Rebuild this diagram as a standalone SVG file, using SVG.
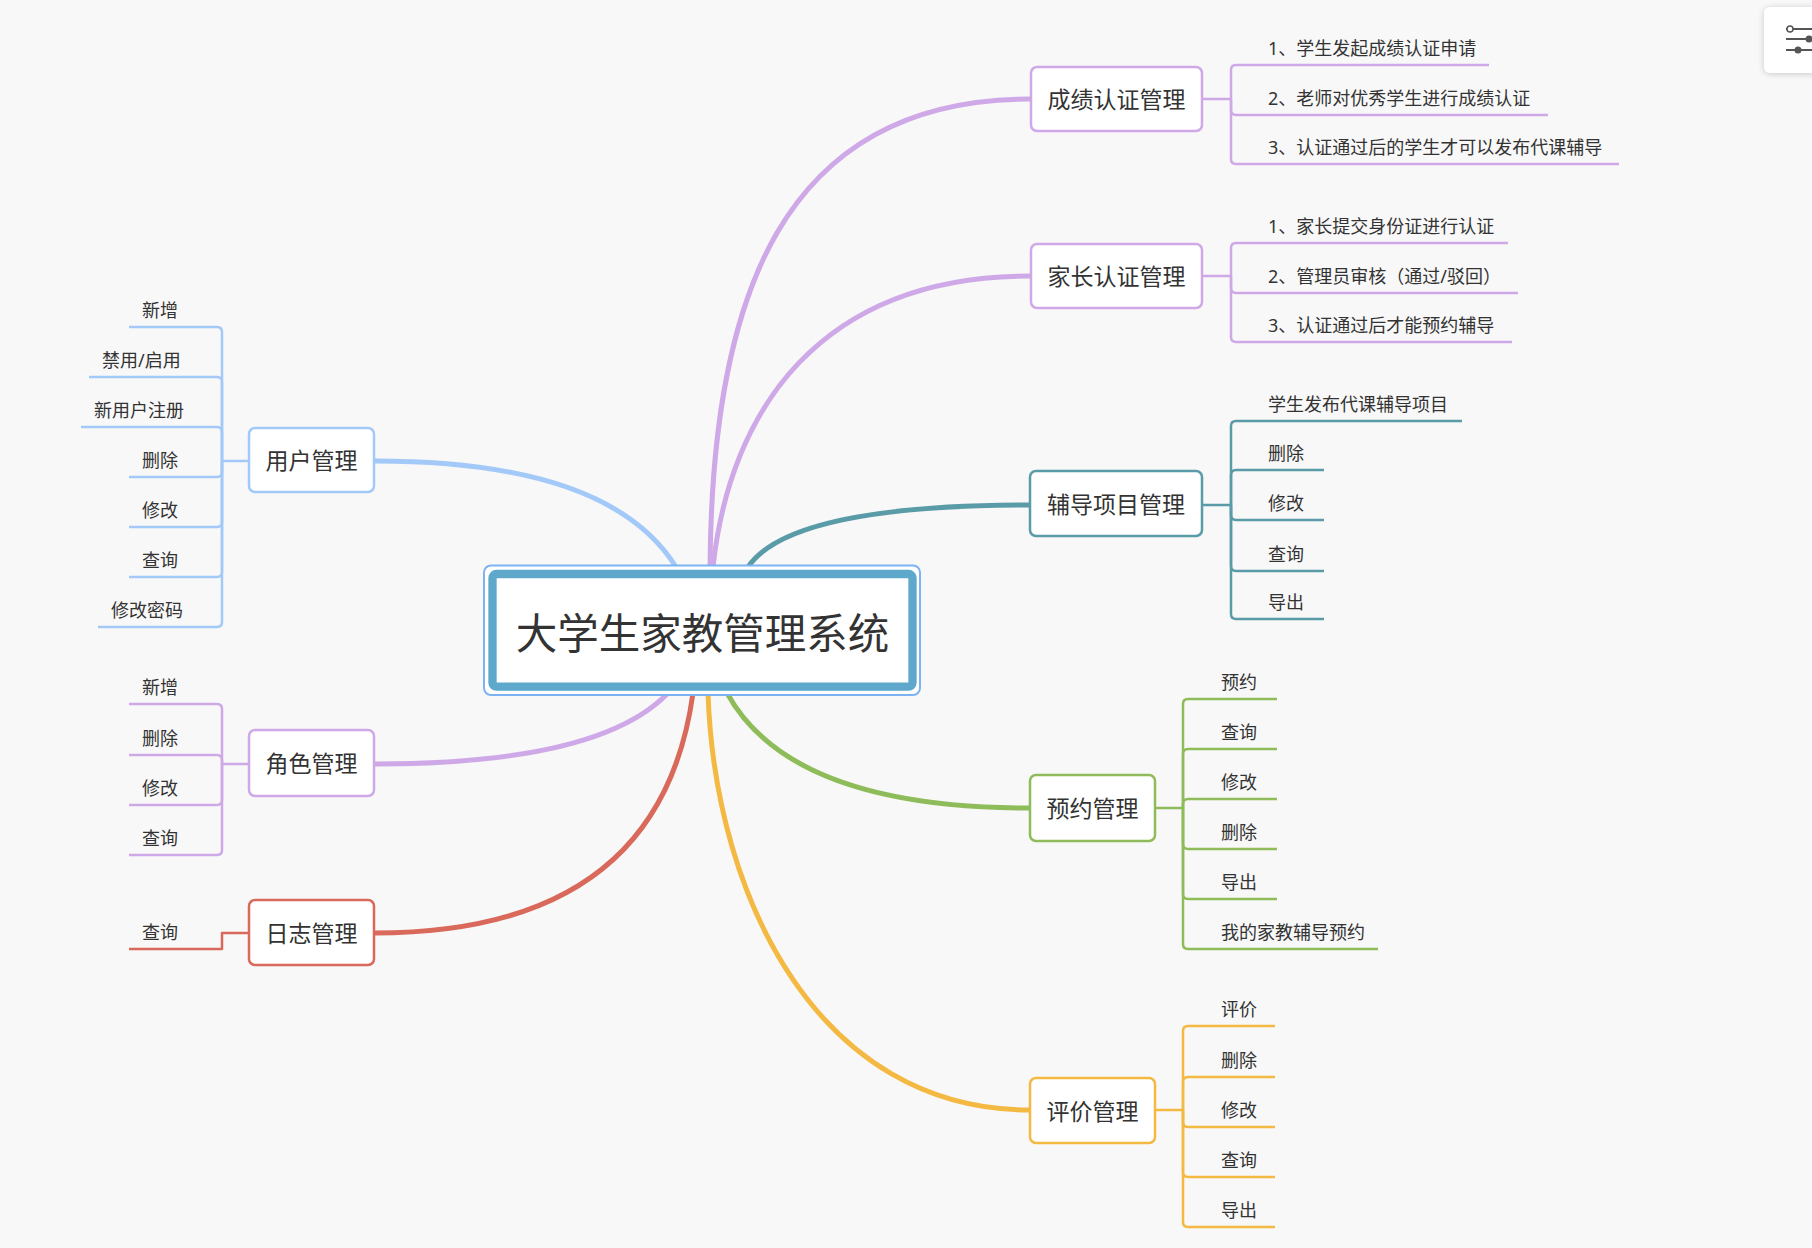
<svg xmlns="http://www.w3.org/2000/svg" width="1812" height="1248" viewBox="0 0 1812 1248">
<defs>
<style>
text{font-family:"Noto Sans","Noto Sans CJK SC",sans-serif;fill:#333}
.t{font-size:23px;text-anchor:middle}
.c{font-size:18px}
.box{fill:#fff;stroke-width:2.5}
.main{fill:none;stroke-width:5;stroke-linecap:round}
.br{fill:none;stroke-width:2.5;stroke-linejoin:round}
.blue{stroke:#a3c9f8}.purple{stroke:#cfa9e7}.teal{stroke:#5a9ba8}.green{stroke:#8fbc5a}.yellow{stroke:#f4b942}.red{stroke:#d9695a}
</style>
<filter id="sh" x="-30%" y="-30%" width="160%" height="160%"><feGaussianBlur in="SourceAlpha" stdDeviation="3"/><feOffset dy="1"/><feComponentTransfer><feFuncA type="linear" slope="0.2"/></feComponentTransfer><feMerge><feMergeNode/><feMergeNode in="SourceGraphic"/></feMerge></filter>
</defs>
<rect width="1812" height="1248" fill="#f8f8f8"/>

<g id="connectors">
<path class="main blue" d="M375 461 Q610 461 676 567"/>
<path class="main purple" d="M375 764 Q600 764 668 693"/>
<path class="main red" d="M375 933 Q660 933 693 693"/>
<path class="main purple" d="M1030 99 C780 99 712 300 710 567"/>
<path class="main purple" d="M1030 276 C820 276 730 410 713 567"/>
<path class="main teal" d="M1030 505 Q790 505 748 567"/>
<path class="main green" d="M1029 808 Q790 808 727 693"/>
<path class="main yellow" d="M1029 1110 C820 1110 715 900 708 693"/>

<!-- user group -->
<g class="br blue">
<path d="M248 461 H222"/>
<path d="M222 461 V332 Q222 327 217 327 H129"/>
<path d="M222 461 V382 Q222 377 217 377 H89"/>
<path d="M222 461 V432 Q222 427 217 427 H81"/>
<path d="M222 461 V472 Q222 477 217 477 H129"/>
<path d="M222 461 V522 Q222 527 217 527 H129"/>
<path d="M222 461 V572 Q222 577 217 577 H129"/>
<path d="M222 461 V622 Q222 627 217 627 H98"/>
</g>
<!-- role group -->
<g class="br purple">
<path d="M248 764 H222"/>
<path d="M222 764 V709 Q222 704 217 704 H129"/>
<path d="M222 764 V760 Q222 755 217 755 H129"/>
<path d="M222 764 V800 Q222 805 217 805 H129"/>
<path d="M222 764 V850 Q222 855 217 855 H129"/>
</g>
<!-- log group -->
<path class="br red" d="M248 933 H222 V949 H129"/>
<!-- 成绩 -->
<g class="br purple">
<path d="M1202 99 H1231"/>
<path d="M1231 99 V70 Q1231 65 1236 65 H1489"/>
<path d="M1231 99 V110 Q1231 115 1236 115 H1548"/>
<path d="M1231 99 V159 Q1231 164 1236 164 H1619"/>
</g>
<!-- 家长 -->
<g class="br purple">
<path d="M1202 276 H1231"/>
<path d="M1231 276 V248 Q1231 243 1236 243 H1508"/>
<path d="M1231 276 V288 Q1231 293 1236 293 H1518"/>
<path d="M1231 276 V337 Q1231 342 1236 342 H1512"/>
</g>
<!-- 辅导 -->
<g class="br teal">
<path d="M1202 505 H1231"/>
<path d="M1231 505 V426 Q1231 421 1236 421 H1462"/>
<path d="M1231 505 V475 Q1231 470 1236 470 H1324"/>
<path d="M1231 505 V515 Q1231 520 1236 520 H1324"/>
<path d="M1231 505 V566 Q1231 571 1236 571 H1324"/>
<path d="M1231 505 V614 Q1231 619 1236 619 H1324"/>
</g>
<!-- 预约 -->
<g class="br green">
<path d="M1155 808 H1183"/>
<path d="M1183 808 V704 Q1183 699 1188 699 H1277"/>
<path d="M1183 808 V754 Q1183 749 1188 749 H1277"/>
<path d="M1183 808 V804 Q1183 799 1188 799 H1277"/>
<path d="M1183 808 V844 Q1183 849 1188 849 H1277"/>
<path d="M1183 808 V894 Q1183 899 1188 899 H1277"/>
<path d="M1183 808 V944 Q1183 949 1188 949 H1378"/>
</g>
<!-- 评价 -->
<g class="br yellow">
<path d="M1155 1110 H1183"/>
<path d="M1183 1110 V1031 Q1183 1026 1188 1026 H1275"/>
<path d="M1183 1110 V1082 Q1183 1077 1188 1077 H1275"/>
<path d="M1183 1110 V1122 Q1183 1127 1188 1127 H1275"/>
<path d="M1183 1110 V1172 Q1183 1177 1188 1177 H1275"/>
<path d="M1183 1110 V1222 Q1183 1227 1188 1227 H1275"/>
</g>
</g>

<g id="root">
<rect x="484" y="565.5" width="436" height="129.5" rx="7" fill="#fff" stroke="#7db3f2" stroke-width="2"/>
<rect x="492.5" y="574" width="420" height="112.7" rx="4" fill="#fff" stroke="#5ea8cb" stroke-width="8.3"/>
<text x="702.5" y="649" style="font-size:41.5px;text-anchor:middle">大学生家教管理系统</text>
</g>

<g id="user-mgmt"><rect class="box blue" x="249" y="428" width="125" height="64" rx="6"/><text class="t" x="311.5" y="469">用户管理</text></g>
<g id="role-mgmt"><rect class="box purple" x="249" y="730" width="125" height="66" rx="6"/><text class="t" x="311.5" y="772">角色管理</text></g>
<g id="log-mgmt"><rect class="box red" x="249" y="900" width="125" height="65" rx="6"/><text class="t" x="311.5" y="941.5">日志管理</text></g>
<g id="grade-mgmt"><rect class="box purple" x="1031" y="67" width="171" height="64" rx="6"/><text class="t" x="1116.5" y="108">成绩认证管理</text></g>
<g id="parent-mgmt"><rect class="box purple" x="1031" y="244" width="171" height="64" rx="6"/><text class="t" x="1116.5" y="285">家长认证管理</text></g>
<g id="project-mgmt"><rect class="box teal" x="1030" y="471" width="172" height="65" rx="6"/><text class="t" x="1116" y="512.5">辅导项目管理</text></g>
<g id="booking-mgmt"><rect class="box green" x="1030" y="775" width="125" height="66" rx="6"/><text class="t" x="1092.5" y="817">预约管理</text></g>
<g id="review-mgmt"><rect class="box yellow" x="1030" y="1078" width="125" height="65" rx="6"/><text class="t" x="1092.5" y="1119.5">评价管理</text></g>

<g id="user-1"><text class="c" x="142" y="317">新增</text></g>
<g id="user-2"><text class="c" x="102" y="367">禁用/启用</text></g>
<g id="user-3"><text class="c" x="94" y="417">新用户注册</text></g>
<g id="user-4"><text class="c" x="142" y="467">删除</text></g>
<g id="user-5"><text class="c" x="142" y="517">修改</text></g>
<g id="user-6"><text class="c" x="142" y="567">查询</text></g>
<g id="user-7"><text class="c" x="111" y="617">修改密码</text></g>

<g id="role-1"><text class="c" x="142" y="694">新增</text></g>
<g id="role-2"><text class="c" x="142" y="745">删除</text></g>
<g id="role-3"><text class="c" x="142" y="795">修改</text></g>
<g id="role-4"><text class="c" x="142" y="845">查询</text></g>

<g id="log-1"><text class="c" x="142" y="939">查询</text></g>

<g id="grade-1"><text class="c" x="1268" y="55">1、学生发起成绩认证申请</text></g>
<g id="grade-2"><text class="c" x="1268" y="105">2、老师对优秀学生进行成绩认证</text></g>
<g id="grade-3"><text class="c" x="1268" y="154">3、认证通过后的学生才可以发布代课辅导</text></g>

<g id="parent-1"><text class="c" x="1268" y="233">1、家长提交身份证进行认证</text></g>
<g id="parent-2"><text class="c" x="1268" y="283">2、管理员审核（通过/驳回）</text></g>
<g id="parent-3"><text class="c" x="1268" y="332">3、认证通过后才能预约辅导</text></g>

<g id="project-1"><text class="c" x="1268" y="411">学生发布代课辅导项目</text></g>
<g id="project-2"><text class="c" x="1268" y="460">删除</text></g>
<g id="project-3"><text class="c" x="1268" y="510">修改</text></g>
<g id="project-4"><text class="c" x="1268" y="561">查询</text></g>
<g id="project-5"><text class="c" x="1268" y="609">导出</text></g>

<g id="booking-1"><text class="c" x="1221" y="689">预约</text></g>
<g id="booking-2"><text class="c" x="1221" y="739">查询</text></g>
<g id="booking-3"><text class="c" x="1221" y="789">修改</text></g>
<g id="booking-4"><text class="c" x="1221" y="839">删除</text></g>
<g id="booking-5"><text class="c" x="1221" y="889">导出</text></g>
<g id="booking-6"><text class="c" x="1221" y="939">我的家教辅导预约</text></g>

<g id="review-1"><text class="c" x="1221" y="1016">评价</text></g>
<g id="review-2"><text class="c" x="1221" y="1067">删除</text></g>
<g id="review-3"><text class="c" x="1221" y="1117">修改</text></g>
<g id="review-4"><text class="c" x="1221" y="1167">查询</text></g>
<g id="review-5"><text class="c" x="1221" y="1217">导出</text></g>

<g id="settings-button">
<rect x="1764" y="7" width="60" height="66" rx="6" fill="#fff" filter="url(#sh)"/>
<g stroke="#555" stroke-width="2">
<line x1="1786" y1="29" x2="1812" y2="29"/>
<line x1="1786" y1="39" x2="1812" y2="39"/>
<line x1="1786" y1="50" x2="1812" y2="50"/>
</g>
<circle cx="1790" cy="29" r="3" fill="#fff" stroke="#555" stroke-width="1.5"/>
<circle cx="1809" cy="39" r="3.5" fill="#555"/>
<circle cx="1798" cy="50" r="3.5" fill="#555"/>
</g>
</svg>
